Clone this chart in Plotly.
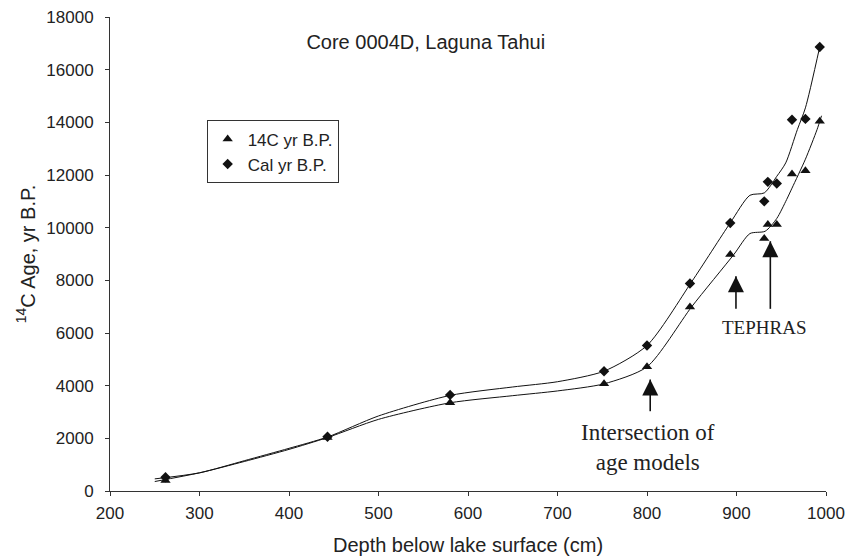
import plotly.graph_objects as go

# Measured samples
depth_14c = [262, 443, 580, 752, 800, 848, 893, 931, 935, 945, 962, 977, 993]
age_14c = [400, 2030, 3350, 4070, 4715, 6990, 8980, 9590, 10120, 10120, 12040, 12160, 14040]
depth_cal = [262, 443, 580, 752, 800, 848, 893, 931, 935, 945, 962, 977, 993]
age_cal = [520, 2060, 3650, 4550, 5525, 7880, 10180, 11000, 11740, 11680, 14100, 14130, 16860]

# Age-model curves
model_depth_14c = [250, 300, 350, 400, 443, 500, 580, 650, 700, 752, 800, 850, 897, 915, 932, 945, 956, 962, 977, 990, 995]
model_age_14c = [360, 690, 1120, 1580, 2030, 2720, 3350, 3620, 3800, 4070, 4715, 7000, 8980, 9776, 9864, 10350, 11067, 11500, 12600, 13725, 14250]
model_depth_cal = [250, 300, 350, 400, 443, 500, 580, 650, 700, 752, 800, 850, 893, 915, 931, 945, 955, 968, 977, 993]
model_age_cal = [460, 690, 1150, 1620, 2050, 2850, 3630, 3950, 4150, 4550, 5525, 7950, 10180, 11230, 11320, 11950, 12460, 13725, 14550, 16870]

# Arrow anchors: intersection, tephra 1, tephra 2
arrow_depths = [803.6, 899.4, 937.8]
arrow_tips = [4233, 8155, 9484]
arrow_tails = [3030, 6917, 6917]

black = "#111111"
txt = "#222222"
fig = go.Figure()

fig.add_trace(go.Scatter(x=model_depth_cal, y=model_age_cal, mode="lines",
                         line=dict(color=black, width=1, shape="spline", smoothing=0.7),
                         showlegend=False, hoverinfo="skip"))
fig.add_trace(go.Scatter(x=model_depth_14c, y=model_age_14c, mode="lines",
                         line=dict(color=black, width=1, shape="spline", smoothing=0.7),
                         showlegend=False, hoverinfo="skip"))
fig.add_trace(go.Scatter(x=depth_14c, y=age_14c, mode="markers", name="14C yr B.P.",
                         marker=dict(symbol="triangle-up", size=9, color=black)))
fig.add_trace(go.Scatter(x=depth_cal, y=age_cal, mode="markers", name="Cal yr B.P.",
                         marker=dict(symbol="diamond", size=8, color=black)))

# Arrows: shafts + heads
shaft_x, shaft_y = [], []
for xd, tip, tail in zip(arrow_depths, arrow_tips, arrow_tails):
    shaft_x += [xd, xd, None]
    shaft_y += [tail, tip, None]
fig.add_trace(go.Scatter(x=shaft_x, y=shaft_y, mode="lines", line=dict(color=black, width=1.6),
                         showlegend=False, hoverinfo="skip"))
fig.add_trace(go.Scatter(x=arrow_depths, y=arrow_tips, mode="markers",
                         marker=dict(symbol="arrow-up", size=16, color=black, line=dict(width=0)),
                         showlegend=False, hoverinfo="skip"))

serif = "Liberation Serif"
fig.add_annotation(x=801.6, y=1650, xref="x", yref="y", showarrow=False,
                   text="Intersection of<br>age models", align="center",
                   font=dict(family=serif, size=23, color=txt))
fig.add_annotation(x=931, y=6196, xref="x", yref="y", showarrow=False,
                   text="TEPHRAS", font=dict(family=serif, size=19, color=txt))

fig.update_layout(
    width=847, height=556,
    margin=dict(l=110, r=21, t=17, b=65),
    paper_bgcolor="white", plot_bgcolor="white",
    font=dict(family="Liberation Sans", size=17, color=txt),
    title=dict(text="Core 0004D, Laguna Tahui", xref="paper", x=0.441, xanchor="center",
               yref="container", y=0.925, yanchor="middle",
               font=dict(family="Liberation Sans", size=20, color=txt)),
    legend=dict(x=0.135, y=0.782, xanchor="left", yanchor="top",
                bordercolor="#333333", borderwidth=1, bgcolor="white",
                font=dict(size=17), itemwidth=30, tracegroupgap=0),
    showlegend=True,
)
fig.update_xaxes(range=[200, 1000], dtick=100, tickformat="d", automargin=False,
                 showline=True, linecolor="#333333", linewidth=1,
                 ticks="outside", ticklen=4, tickcolor="#333333", showgrid=False, zeroline=False,
                 tickfont=dict(size=17), ticklabelstandoff=3,
                 title=dict(text="Depth below lake surface (cm)", font=dict(size=20), standoff=17))
fig.update_yaxes(range=[0, 18000], dtick=2000, tickformat="d", automargin=False,
                 showline=True, linecolor="#333333", linewidth=1,
                 ticks="outside", ticklen=4, tickcolor="#333333", showgrid=False, zeroline=False,
                 tickfont=dict(size=17), ticklabelstandoff=8,
                 title=dict(text="<sup>14</sup>C Age, yr B.P.", font=dict(size=20), standoff=5))

fig.write_html("out.html")
